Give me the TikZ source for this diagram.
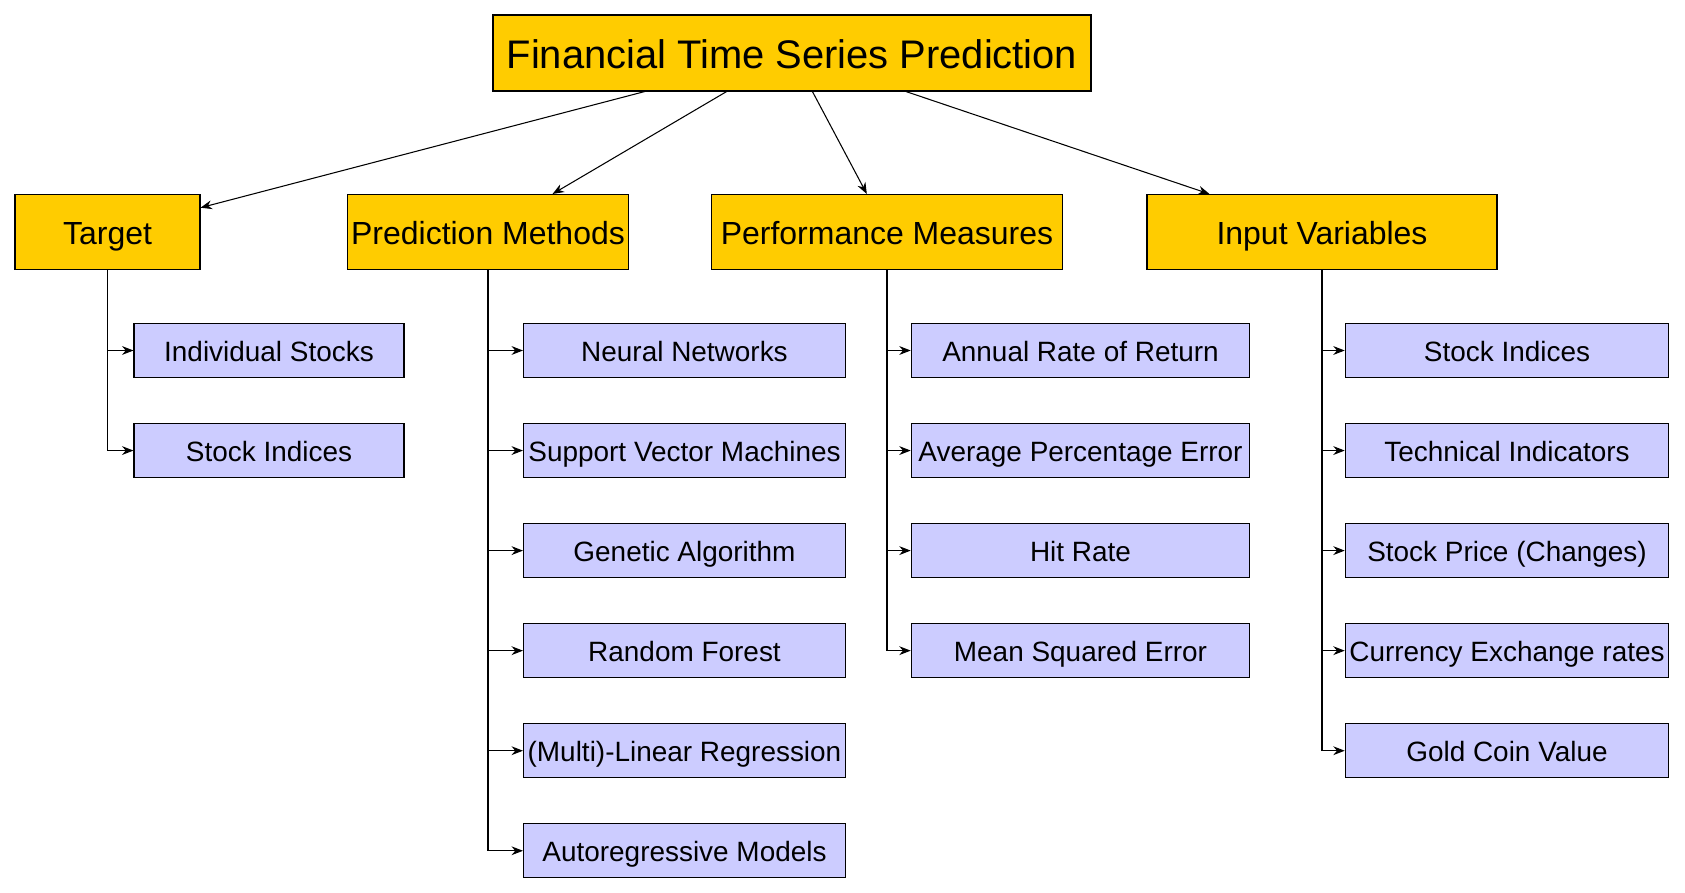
\documentclass[tikz,border=0pt]{standalone}
\usepackage{fontspec}
\setmainfont{Liberation Sans}
\usepackage{xcolor}
\usetikzlibrary{arrows.meta, positioning}

\definecolor{headyellow}{RGB}{255,204,0}
\definecolor{leafblue}{RGB}{204,204,255}

\begin{document}
\begin{tikzpicture}[
    box/.style={draw, line width=0.6pt, inner sep=1pt, align=center},
    rootbox/.style={box, fill=headyellow, minimum width=11.96cm,
                    minimum height=1.52cm, text height=21.2pt, text depth=4.1pt,
                    font=\fontsize{22.7}{26}\selectfont},
    catbox/.style={box, fill=headyellow, minimum height=1.5cm,
                   text height=17.3pt, text depth=3pt,
                   font=\fontsize{18.2}{22}\selectfont},
    leafbox/.style={box, fill=leafblue, minimum height=1.08cm,
                    text height=15pt, text depth=2.8pt,
                    font=\fontsize{15.9}{19}\selectfont},
    link/.style={draw, line width=0.6pt, -{Stealth[length=6.5pt, width=5pt]}},
    node distance=0.9cm
  ]
  \useasboundingbox (0,0) rectangle (33.7,-17.86);

  \node[rootbox] (root) at (15.84,-1.06) {Financial Time Series Prediction};

  % categories
  \node[catbox, minimum width=3.7cm]  (target) at (2.15,-4.64)  {Target};
  \node[catbox, minimum width=5.63cm] (method) at (9.76,-4.64)  {Prediction Methods};
  \node[catbox, minimum width=7.02cm] (perf)   at (17.74,-4.64) {Performance Measures};
  \node[catbox, minimum width=7.0cm]  (input)  at (26.44,-4.64) {Input Variables};

  % target
  \node[leafbox, minimum width=5.4cm] (tgt1) at (5.38,-7.01) {Individual Stocks};
  \node[leafbox, minimum width=5.4cm, below=of tgt1] (tgt2) {Stock Indices};

  % prediction methods
  \node[leafbox, minimum width=6.44cm] (pm1) at (13.69,-7.01) {Neural Networks};
  \node[leafbox, minimum width=6.44cm, below=of pm1] (pm2) {Support Vector Machines};
  \node[leafbox, minimum width=6.44cm, below=of pm2] (pm3) {Genetic Algorithm};
  \node[leafbox, minimum width=6.44cm, below=of pm3] (pm4) {Random Forest};
  \node[leafbox, minimum width=6.44cm, below=of pm4] (pm5) {(Multi)-Linear Regression};
  \node[leafbox, minimum width=6.44cm, below=of pm5] (pm6) {Autoregressive Models};

  % performance measures
  \node[leafbox, minimum width=6.77cm] (pf1) at (21.61,-7.01) {Annual Rate of Return};
  \node[leafbox, minimum width=6.77cm, below=of pf1] (pf2) {Average Percentage Error};
  \node[leafbox, minimum width=6.77cm, below=of pf2] (pf3) {Hit Rate};
  \node[leafbox, minimum width=6.77cm, below=of pf3] (pf4) {Mean Squared Error};

  % input variables
  \node[leafbox, minimum width=6.47cm] (iv1) at (30.14,-7.01) {Stock Indices};
  \node[leafbox, minimum width=6.47cm, below=of iv1] (iv2) {Technical Indicators};
  \node[leafbox, minimum width=6.47cm, below=of iv2] (iv3) {Stock Price (Changes)};
  \node[leafbox, minimum width=6.47cm, below=of iv3] (iv4) {Currency Exchange rates};
  \node[leafbox, minimum width=6.47cm, below=of iv4] (iv5) {Gold Coin Value};

  % connectors
  \draw[link] (root) -- (target);
  \draw[link] (root) -- (method);
  \draw[link] (root) -- (perf);
  \draw[link] (root) -- (input);

  \draw[link] (target.south) |- (tgt1.west);
  \draw[link] (target.south) |- (tgt2.west);

  \draw[link] (method.south) |- (pm1.west);
  \draw[link] (method.south) |- (pm2.west);
  \draw[link] (method.south) |- (pm3.west);
  \draw[link] (method.south) |- (pm4.west);
  \draw[link] (method.south) |- (pm5.west);
  \draw[link] (method.south) |- (pm6.west);

  \draw[link] (perf.south) |- (pf1.west);
  \draw[link] (perf.south) |- (pf2.west);
  \draw[link] (perf.south) |- (pf3.west);
  \draw[link] (perf.south) |- (pf4.west);

  \draw[link] (input.south) |- (iv1.west);
  \draw[link] (input.south) |- (iv2.west);
  \draw[link] (input.south) |- (iv3.west);
  \draw[link] (input.south) |- (iv4.west);
  \draw[link] (input.south) |- (iv5.west);
\end{tikzpicture}
\end{document}
